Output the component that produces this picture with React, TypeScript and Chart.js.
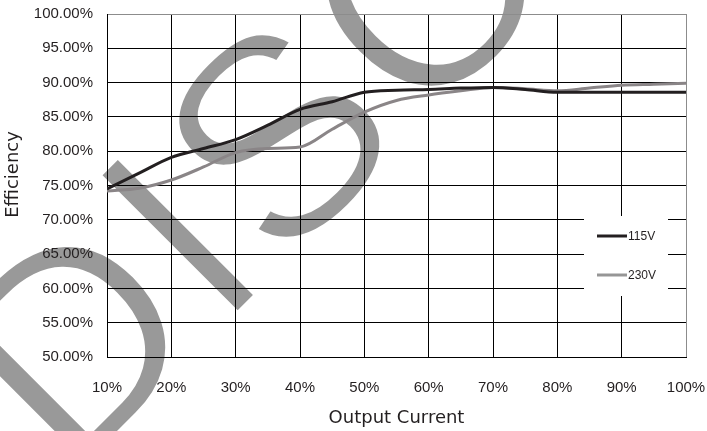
import React, { useEffect, useRef } from "react";
import { Chart, registerables } from "chart.js";

Chart.register(...registerables);

// Output current (% of rated load)
const loadPct = [10, 15, 20, 25, 30, 35, 40, 45, 50, 55, 60, 65, 70, 75, 80, 85, 90, 95, 100];
// Efficiency (%) at 115V input
const eff115 = [74.5, 76.8, 79.1, 80.4, 81.7, 83.8, 86.1, 87.2, 88.6, 88.9, 89.0, 89.2, 89.3, 89.0, 88.6, 88.6, 88.6, 88.6, 88.6];
// Efficiency (%) at 230V input
const eff230 = [74.2, 74.6, 75.8, 77.7, 79.8, 80.4, 80.6, 83.2, 85.7, 87.4, 88.2, 88.8, 89.3, 89.1, 88.8, 89.2, 89.6, 89.75, 89.9];

const seriesLabels = ["115V", "230V"];
const seriesColors = ["#231f20", "#8a8587"];
const legendColors = ["#231f20", "#969696"];
const xTitle = "Output Current";
const yTitle = "Efficiency";
const watermark = "DISCONTINUED";

const watermarkPlugin = {
  id: "watermark",
  beforeDraw(chart: any) {
    const { ctx } = chart;
    ctx.save();
    ctx.rotate(-Math.PI / 4);
    ctx.font = '285px "Liberation Sans", Arial, sans-serif';
    try {
      (ctx as any).letterSpacing = "6px";
    } catch (e) {}
    ctx.fillStyle = "#999999";
    ctx.textBaseline = "alphabetic";
    ctx.textAlign = "left";
    ctx.fillText(watermark, -292, 390);
    // thin the strokes a little
    ctx.strokeStyle = "#ffffff";
    ctx.lineWidth = 5;
    ctx.lineJoin = "round";
    ctx.strokeText(watermark, -292, 390);
    ctx.restore();
  },
};

const overlayPlugin = {
  id: "overlay",
  afterDraw(chart: any) {
    const { ctx, chartArea: ca } = chart;
    // y axis title
    ctx.save();
    ctx.translate(13, ca.top + (ca.bottom - ca.top) / 2 - 11);
    ctx.rotate(-Math.PI / 2);
    ctx.font = '18px "DejaVu Sans", sans-serif';
    ctx.fillStyle = "#231f20";
    ctx.textAlign = "center";
    ctx.textBaseline = "middle";
    ctx.fillText(yTitle, 0, 0);
    ctx.restore();

    // legend box inside plot area
    const left = ca.right - 102;
    const top = ca.top + 202;
    ctx.save();
    ctx.fillStyle = "#ffffff";
    ctx.fillRect(left, top, 84, 80);
    ctx.font = '12px "Liberation Sans", Arial, sans-serif';
    ctx.textBaseline = "middle";
    ctx.textAlign = "left";
    chart.data.datasets.forEach((ds: any, i: number) => {
      const y = top + 20 + i * 39;
      ctx.strokeStyle = legendColors[i];
      ctx.lineWidth = 3;
      ctx.beginPath();
      ctx.moveTo(left + 13, y);
      ctx.lineTo(left + 43, y);
      ctx.stroke();
      ctx.fillStyle = "#231f20";
      ctx.fillText(ds.label, left + 44, y + 0.5);
    });
    ctx.restore();
  },
};

export default function App() {
  const ref = useRef<HTMLCanvasElement | null>(null);

  useEffect(() => {
    if (!ref.current) return;
    const chart = new Chart(ref.current, {
      type: "line",
      data: {
        datasets: [
          {
            label: seriesLabels[0],
            data: loadPct.map((x, i) => ({ x, y: eff115[i] })),
            borderColor: seriesColors[0],
            borderWidth: 3,
            pointRadius: 0,
            cubicInterpolationMode: "monotone",
            fill: false,
          },
          {
            label: seriesLabels[1],
            data: loadPct.map((x, i) => ({ x, y: eff230[i] })),
            borderColor: seriesColors[1],
            borderWidth: 3,
            pointRadius: 0,
            cubicInterpolationMode: "monotone",
            fill: false,
          },
        ],
      },
      options: {
        responsive: false,
        animation: false,
        devicePixelRatio: 1,
        layout: { padding: { top: 14, right: 21, left: 0, bottom: 0 } },
        plugins: {
          legend: { display: false },
          tooltip: { enabled: false },
        },
        scales: {
          x: {
            type: "linear",
            min: 10,
            max: 100,
            afterFit: (s: any) => {
              s.height = 74;
              s.paddingLeft = 0;
              s.paddingRight = 0;
            },
            ticks: {
              stepSize: 10,
              autoSkip: false,
              maxRotation: 0,
              padding: 22,
              color: "#231f20",
              font: { family: '"Liberation Sans", Arial, sans-serif', size: 15 },
              callback: (v: any) => v + "%",
            },
            grid: {
              drawTicks: false,
              lineWidth: 1,
              color: (c: any) => (c.tick && c.tick.value === 100 ? "#8c8c8c" : "#000000"),
            },
            border: { color: "#000000", width: 1 },
            title: {
              display: true,
              text: xTitle,
              color: "#231f20",
              font: { family: '"DejaVu Sans", sans-serif', size: 18 },
              padding: { top: 0, bottom: 2 },
            },
          },
          y: {
            min: 50,
            max: 100,
            afterFit: (s: any) => {
              s.width = 107;
              s.paddingTop = 0;
              s.paddingBottom = 0;
            },
            ticks: {
              stepSize: 5,
              padding: 14,
              color: "#231f20",
              font: { family: '"Liberation Sans", Arial, sans-serif', size: 15 },
              callback: (v: any) => Number(v).toFixed(2) + "%",
            },
            grid: {
              drawTicks: false,
              lineWidth: 1,
              color: (c: any) => (c.tick && c.tick.value === 100 ? "#8c8c8c" : "#000000"),
            },
            border: { color: "#000000", width: 1 },
          },
        },
      },
      plugins: [watermarkPlugin, overlayPlugin],
    } as any);
    return () => chart.destroy();
  }, []);

  return (
    <div style={{ position: "fixed", left: 0, top: 0, width: 707, height: 431, background: "#fff" }}>
      <canvas ref={ref} width={707} height={431} style={{ display: "block" }} />
    </div>
  );
}
